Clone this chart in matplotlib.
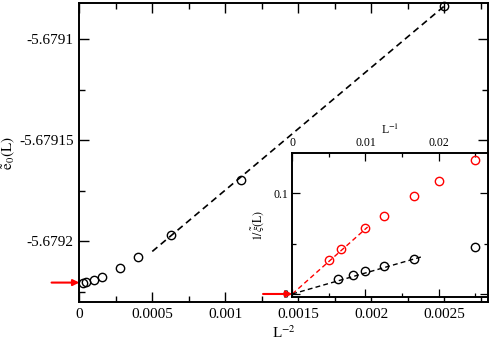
import matplotlib
matplotlib.use("Agg")
import matplotlib.pyplot as plt
import numpy as np
from matplotlib.ticker import MultipleLocator

plt.rcParams["font.family"] = ["Liberation Serif", "DejaVu Serif"]
plt.rcParams["mathtext.fontset"] = "stix"

# main panel: ground-state energy vs L^-2
L_main = np.array([20, 30, 40, 50, 60, 80, 100, 150, 200])
e0_main = [-5.6790837, -5.6791697, -5.6791967, -5.6792079, -5.6792132,
           -5.6792177, -5.6792192, -5.6792203, -5.6792204]
fit_main_x = [0.0005, 0.0025]
fit_main_y = [-5.679205, -5.6790837]
e0_extrap = -5.6792204

# inset: inverse correlation length vs L^-1
L_red = np.array([40, 50, 60, 80, 100, 150, 200])
xi_red = [0.1331, 0.1119, 0.0973, 0.0778, 0.0652, 0.0450, 0.0338]
L_black = np.array([40, 60, 80, 100, 120, 160])
xi_black = [0.0470, 0.0348, 0.0278, 0.0231, 0.0192, 0.0146]
fit_red_x = [0.0, 0.0103]
fit_red_y = [0.0, 0.0665]
fit_black_x = [0.0, 0.01773]
fit_black_y = [0.0, 0.0370]

main_xticks = [0, 0.0005, 0.001, 0.0015, 0.002, 0.0025]
main_xlabels = ["0", "0.0005", "0.001", "0.0015", "0.002", "0.0025"]
main_yticks = [-5.6792, -5.67915, -5.6791]
main_ylabels = ["-5.6792", "-5.67915", "-5.6791"]
inset_xticks = [0, 0.01, 0.02]
inset_xlabels = ["0", "0.01", "0.02"]
inset_yticks = [0, 0.1]
inset_ylabels = ["0", "0.1"]

W, H = 491, 340
fig = plt.figure(figsize=(W / 100, H / 100), dpi=100)

ax = fig.add_axes([79.3 / W, 1 - 302 / H, (488 - 79.3) / W, (302 - 3.3) / H])
ax.plot(fit_main_x, fit_main_y, color="black", lw=1.2, ls=(0, (4, 2.6)))
ax.plot(1.0 / L_main**2, e0_main, "o", mfc="none", mec="black", ms=6, mew=1.0,
        clip_on=False, zorder=3)
ax.set_xlim(0, 0.0028)
ax.set_ylim(-5.67923, -5.6790823)
ax.set_xticks(main_xticks)
ax.set_xticklabels(main_xlabels)
ax.set_yticks(main_yticks)
ax.set_yticklabels(main_ylabels)
ax.xaxis.set_minor_locator(MultipleLocator(0.00025))
ax.yaxis.set_minor_locator(MultipleLocator(0.000025))
ax.tick_params(which="both", direction="in", top=True, right=True, labelsize=11, width=1.0)
ax.tick_params(which="major", length=7, pad=4)
ax.tick_params(which="minor", length=4)
for s in ax.spines.values():
    s.set_linewidth(1.4)
ax.set_xlabel(r"L$^{-2}$", fontsize=11, labelpad=3)
ax.set_ylabel(r"$\tilde{\mathrm{e}}_0\mathrm{(L)}$", fontsize=11)
ax.yaxis.set_label_coords(-0.152, 0.5)
ax.annotate("", xy=(0, e0_extrap), xytext=(-0.00019, e0_extrap),
            arrowprops=dict(arrowstyle="-|>", color="red", lw=1.5,
                            mutation_scale=9, shrinkA=0, shrinkB=0),
            annotation_clip=False)

ins = fig.add_axes([292.3 / W, 1 - 297 / H, (488.3 - 292.3) / W, (297 - 153.3) / H])
ins.set_facecolor("white")
ins.plot(fit_red_x, fit_red_y, color="red", lw=1.0, ls=(0, (3.5, 2.3)))
ins.plot(fit_black_x, fit_black_y, color="black", lw=1.0, ls=(0, (3.5, 2.3)))
ins.plot(1.0 / L_red, xi_red, "o", mfc="none", mec="red", ms=6, mew=1.0, zorder=3)
ins.plot(1.0 / L_black, xi_black, "o", mfc="none", mec="black", ms=6, mew=1.0, zorder=3)
ins.set_xlim(0, 0.0268)
ins.set_ylim(-0.003, 0.1397)
ins.set_xticks(inset_xticks)
ins.set_xticklabels(inset_xlabels)
ins.set_yticks(inset_yticks)
ins.set_yticklabels(inset_ylabels)
ins.xaxis.set_minor_locator(MultipleLocator(0.005))
ins.yaxis.set_minor_locator(MultipleLocator(0.05))
ins.tick_params(which="both", direction="in", top=True, right=True, bottom=True,
                labeltop=True, labelbottom=False, labelsize=8.5, width=0.9)
ins.tick_params(which="major", length=6, pad=3)
ins.tick_params(which="minor", length=3)
for s in ins.spines.values():
    s.set_linewidth(1.4)
ins.xaxis.set_label_position("top")
ins.set_xlabel(r"L$^{-1}$", fontsize=8.5, labelpad=2)
ins.set_ylabel(r"$1/\tilde{\xi}\mathrm{(L)}$", fontsize=8.5, labelpad=5)
ins.annotate("", xy=(0, 0), xytext=(-0.004, 0),
             arrowprops=dict(arrowstyle="-|>", color="red", lw=1.5,
                             mutation_scale=9, shrinkA=0, shrinkB=0),
             annotation_clip=False)

fig.savefig("out.png", dpi=100)
